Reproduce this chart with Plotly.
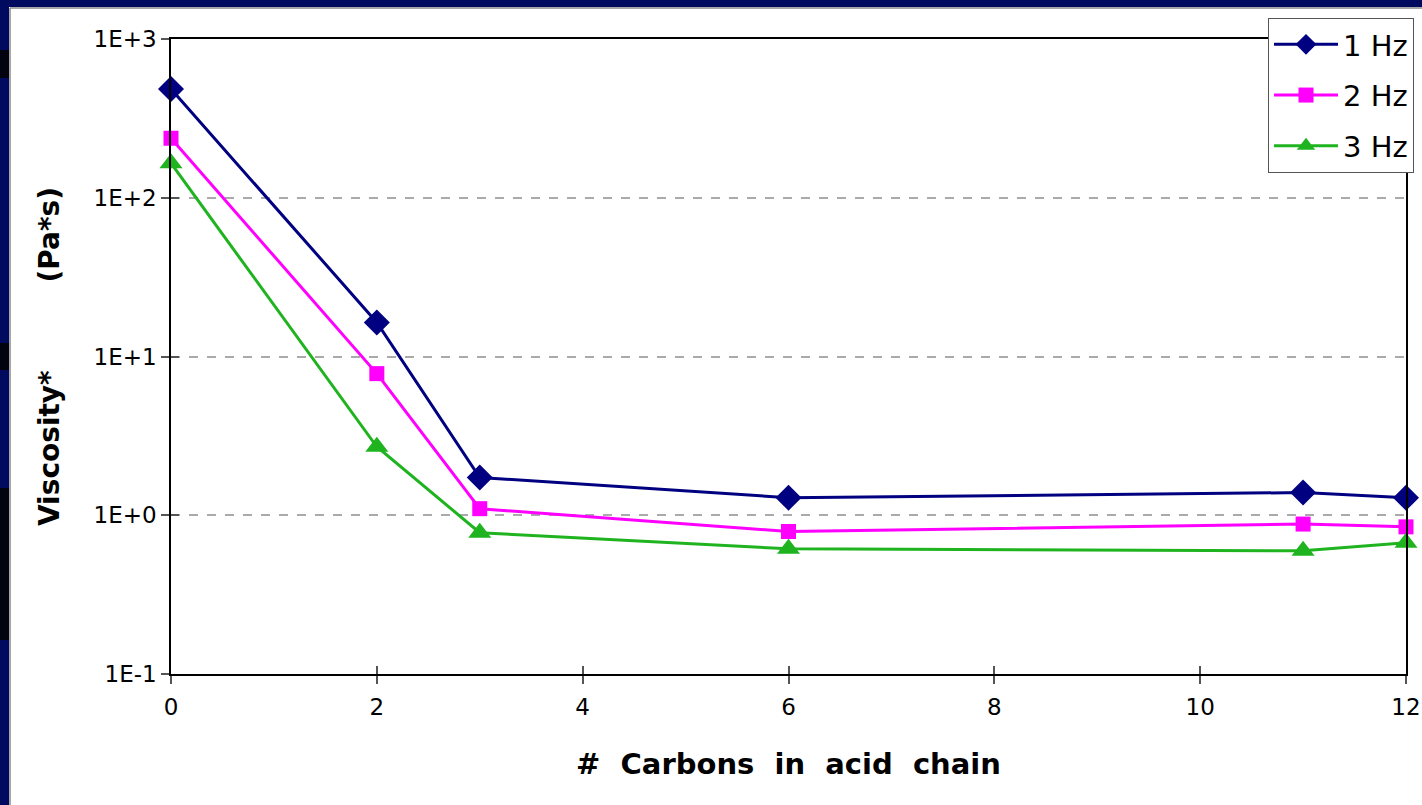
import plotly.graph_objects as go

# Number of carbons in the acid chain
carbons = [0, 2, 3, 6, 11, 12]

# Complex viscosity (Pa*s) at three oscillation frequencies
visc_1hz = [484, 16.4, 1.73, 1.29, 1.39, 1.29]
visc_2hz = [237, 7.8, 1.10, 0.79, 0.88, 0.845]
visc_3hz = [165, 2.7, 0.776, 0.615, 0.597, 0.67]

series_names = ["1 Hz", "2 Hz", "3 Hz"]

W, H = 1422, 805
L, R, T, B = 171, 16, 39, 131
PW, PH = W - L - R, H - T - B


def px(x):
    return (x - L) / PW


def py(y):
    return (H - B - y) / PH


fig = go.Figure()

styles = [
    dict(color="#000080", symbol="diamond", size=20, width=3),
    dict(color="#ff00ff", symbol="square", size=15, width=3),
    dict(color="#1fb41f", symbol="triangle-up", size=20, width=3),
]

for name, vals, st in zip(series_names, [visc_1hz, visc_2hz, visc_3hz], styles):
    fig.add_trace(go.Scatter(
        x=carbons, y=vals, name=name, mode="lines+markers",
        legendgroup=name,
        line=dict(color=st["color"], width=st["width"]),
        marker=dict(symbol=st["symbol"], size=st["size"], color=st["color"],
                    line=dict(width=0)),
        cliponaxis=False,
    ))

# invisible trace to host the inside-tick overlay axes
fig.add_trace(go.Scatter(x=[0], y=[1], xaxis="x2", yaxis="y2",
                         showlegend=False, hoverinfo="skip",
                         marker=dict(opacity=0)))

tick_font = dict(family="DejaVu Sans", size=23, color="#000")
SP = "\u00a0"

fig.update_layout(
    width=W, height=H,
    margin=dict(l=L, r=R, t=T, b=B, autoexpand=False),
    paper_bgcolor="white",
    plot_bgcolor="white",
    showlegend=True,
    legend=dict(
        x=px(1268), y=py(18), xanchor="left", yanchor="top",
        bgcolor="white", bordercolor="#555", borderwidth=1,
        font=dict(family="DejaVu Sans", size=29, color="#000"),
        tracegroupgap=10, itemwidth=64,
    ),
    xaxis=dict(
        range=[0, 12], dtick=2, tick0=0, automargin=False,
        showgrid=False, zeroline=False,
        showline=True, linecolor="#000", linewidth=1.5, mirror=True,
        ticks="outside", ticklen=8, tickcolor="#555", tickwidth=1.5,
        ticklabelstandoff=4,
        tickfont=tick_font,
        title=dict(text="<b>#" + SP * 2 + "Carbons" + SP * 2 + "in" + SP * 2
                   + "acid" + SP * 2 + "chain</b>",
                   font=dict(family="DejaVu Sans", size=29, color="#000"),
                   standoff=34),
    ),
    yaxis=dict(
        type="log", range=[-1, 3], automargin=False,
        tickvals=[0.1, 1, 10, 100, 1000],
        ticktext=["1E-1", "1E+0", "1E+1", "1E+2", "1E+3"],
        showgrid=True, gridcolor="#aaaaaa", griddash="dash", gridwidth=1.5,
        zeroline=False,
        showline=True, linecolor="#000", linewidth=1.5, mirror=True,
        ticks="outside", ticklen=8, tickcolor="#555", tickwidth=1.5,
        tickfont=tick_font,
        title=dict(text="<b>Viscosity*" + SP * 9 + "(Pa*s)</b>",
                   font=dict(family="DejaVu Sans", size=28, color="#000"),
                   standoff=26),
    ),
    xaxis2=dict(
        overlaying="x", range=[0, 12], dtick=2, tick0=0, side="bottom",
        automargin=False,
        showgrid=False, zeroline=False, showticklabels=False,
        ticks="inside", ticklen=8, tickcolor="#555", tickwidth=1.5,
    ),
    yaxis2=dict(
        overlaying="y", type="log", range=[-1, 3], automargin=False,
        tickvals=[0.1, 1, 10, 100, 1000], side="left",
        showgrid=False, zeroline=False, showticklabels=False,
        ticks="inside", ticklen=8, tickcolor="#555", tickwidth=1.5,
    ),
)

# slide frame: dark band along top and left edges
frame = [
    dict(x0=px(0), x1=px(W), y0=py(0), y1=py(7), fill="#000a5e"),
    dict(x0=px(0), x1=px(9), y0=py(0), y1=py(H), fill="#000a5e"),
    dict(x0=px(0), x1=px(9), y0=py(50), y1=py(78), fill="#02030f"),
    dict(x0=px(0), x1=px(9), y0=py(343), y1=py(370), fill="#02030f"),
    dict(x0=px(0), x1=px(9), y0=py(488), y1=py(640), fill="#02030f"),
]
for f in frame:
    fig.add_shape(type="rect", xref="paper", yref="paper",
                  x0=f["x0"], x1=f["x1"], y0=f["y0"], y1=f["y1"],
                  fillcolor=f["fill"], line=dict(width=0), layer="below")
fig.add_shape(type="line", xref="paper", yref="paper",
              x0=px(10), x1=px(10), y0=py(8), y1=py(H),
              line=dict(color="#888", width=1.5), layer="below")
fig.add_shape(type="line", xref="paper", yref="paper",
              x0=px(10), x1=px(W), y0=py(8), y1=py(8),
              line=dict(color="#888", width=1.5), layer="below")

fig.write_html("out.html")
